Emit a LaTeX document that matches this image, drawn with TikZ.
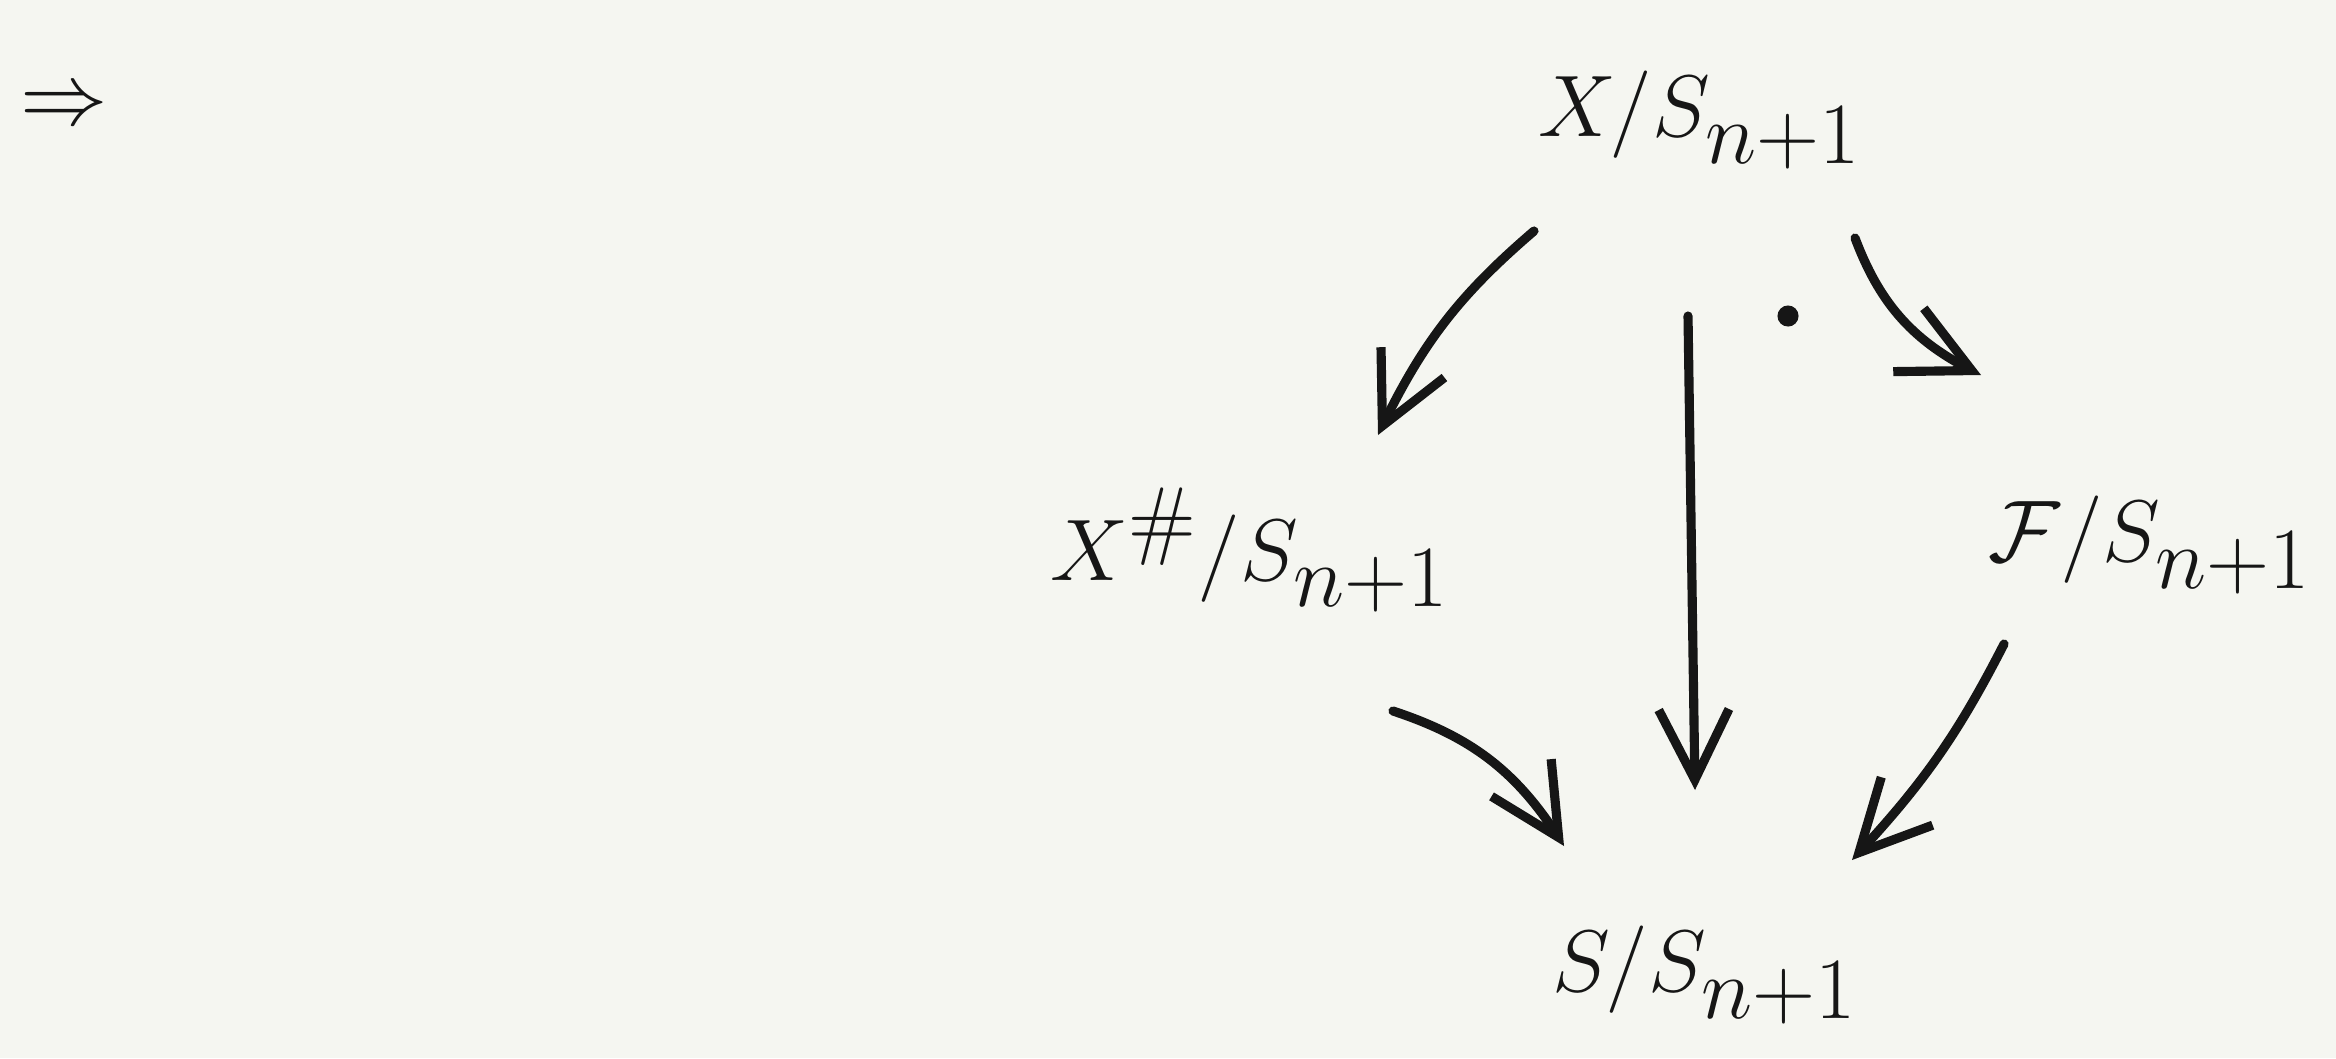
\documentclass[tikz,border=0pt]{standalone}
\usepackage{amsmath,amssymb}
\usepackage{xcolor}
\definecolor{PaperBg}{RGB}{245, 246, 241}
\definecolor{InkBlack}{RGB}{22, 22, 22}
\usepackage{tikz}
\usetikzlibrary{arrows.meta, bending}

\begin{document}
\begin{tikzpicture}[
  obj/.style={text=InkBlack, inner sep=0.25cm,
              font=\fontsize{34}{40}\selectfont},
  map/.style={draw=InkBlack, line width=2.6pt, line cap=round,
              -{Straight Barb[length=20pt, width=20pt, line width=2.6pt]}},
  x=1cm, y=1cm
]
  % paper
  \fill[PaperBg] (0,0) rectangle (23.36,10.58);
  \useasboundingbox (0,0) rectangle (23.36,10.58);

  \node[obj] (impl) at (0.64,9.50) {$\Rightarrow$};

  \node[obj] (xs)     at (17.00,9.38) {$X/S_{n+1}$};
  \node[obj] (xsharp) at (12.50,5.08) {$X^{\#}/S_{n+1}$};
  \node[obj] (fs)     at (21.50,5.13) {$\mathcal{F}/S_{n+1}$};
  \node[obj] (ss)     at (17.05,0.83) {$S/S_{n+1}$};

  \fill[InkBlack] (17.88,7.42) circle (3pt);

  % maps, ends offset from the node centres
  \draw[map] ([shift={(-1.66,-1.11)}]xs.center) to[bend right=12]
             ([shift={(1.28,1.15)}]xsharp.center);
  \draw[map] ([shift={(-0.12,-1.96)}]xs.center) --
             ([shift={(-0.10,1.85)}]ss.center);
  \draw[map] ([shift={(1.55,-1.18)}]xs.center) to[bend right=22]
             ([shift={(-1.69,1.70)}]fs.center);
  \draw[map] ([shift={(1.43,-1.61)}]xsharp.center) to[bend left=20]
             ([shift={(-1.41,1.29)}]ss.center);
  \draw[map] ([shift={(-1.46,-0.99)}]fs.center) to[bend left=8]
             ([shift={(1.47,1.15)}]ss.center);
\end{tikzpicture}
\end{document}
